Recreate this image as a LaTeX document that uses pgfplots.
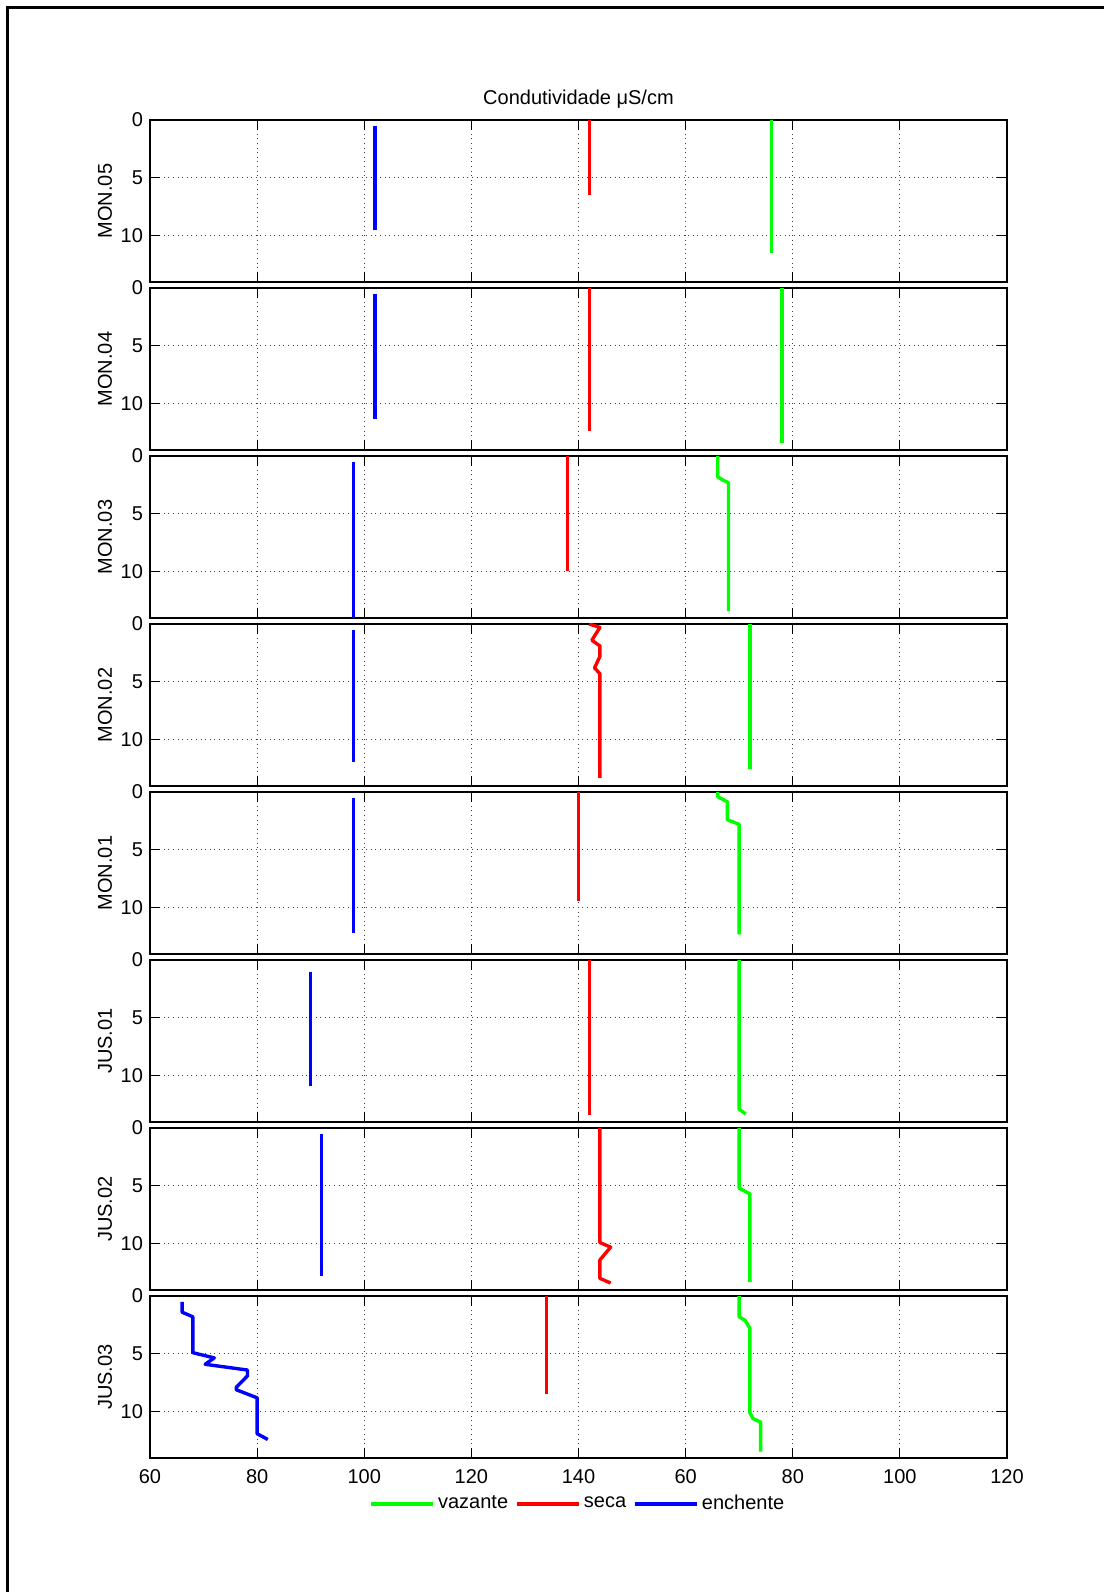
\documentclass[border=0pt]{standalone}
\usepackage{pgfplots}
\pgfplotsset{compat=1.18}
\usepackage{fontspec}
\setmainfont{Liberation Sans}
\definecolor{mgreen}{RGB}{0,255,0}
\definecolor{mred}{RGB}{255,0,0}
\definecolor{mblue}{RGB}{0,0,255}
\pgfplotsset{
  panel/.style={
    scale only axis, width=428.5pt, height=81pt,
    anchor=north west,
    xmin=60, xmax=220, ymin=0, ymax=14, y dir=reverse,
    xtick={60,80,...,220}, ytick={0,5,10}, yticklabels={0,5,10},
    xticklabels={},
    /pgf/number format/assume math mode=true,
    grid=major,
    major grid style={black!75, line width=0.5pt, dash pattern=on 0.5pt off 1.8pt},
    tick align=inside, major tick length=5pt,
    axis line style={line width=0.6pt, black},
    every tick/.style={black, line width=0.6pt},
    tick label style={font=\fontsize{10}{12}\selectfont},
    xticklabel style={yshift=-2pt},
    every axis y label/.style={at={(rel axis cs:0,0.5)}, xshift=-22.5pt, rotate=90, anchor=center, font=\fontsize{10}{12}\selectfont},
    every axis plot/.append style={line width=1.7pt, line join=round},
  }
}
\begin{document}
\begin{tikzpicture}
\path[use as bounding box] (0,0) rectangle (552pt,796pt);
\draw[line width=1.5pt] (3.75pt,0pt) -- (3.75pt,792pt) -- (552pt,792pt);

% MON.05
\begin{axis}[panel, at={(75pt,736pt)}, ylabel={MON.05},
  title={Condutividade μS/cm},
  title style={at={(0.5,1)}, anchor=center, yshift=4.5pt, font=\fontsize{10}{12}\selectfont}]
\addplot[mblue] coordinates {(102,0.5)(102,9.5)};
\addplot[mred] coordinates {(142,0)(142,6.5)};
\addplot[mgreen] coordinates {(176,0)(176,11.5)};
\end{axis}

% MON.04
\begin{axis}[panel, at={(75pt,652pt)}, ylabel={MON.04}]
\addplot[mblue] coordinates {(102,0.5)(102,11.3)};
\addplot[mred] coordinates {(142,0)(142,12.4)};
\addplot[mgreen] coordinates {(178,0)(178,13.4)};
\end{axis}

% MON.03
\begin{axis}[panel, at={(75pt,568pt)}, ylabel={MON.03}]
\addplot[mblue] coordinates {(98,0.5)(98,14)};
\addplot[mred] coordinates {(138,0)(138,9.9)};
\addplot[mgreen] coordinates {(166,0)(166,1.8)(167,2.1)(168,2.3)(168,13.4)};
\end{axis}

% MON.02
\begin{axis}[panel, at={(75pt,484pt)}, ylabel={MON.02}]
\addplot[mblue] coordinates {(98,0.5)(98,11.9)};
\addplot[mred] coordinates {(142,0)(144,0.3)(142.5,1.4)(144,1.9)(144,2.8)(143,3.8)(144,4.3)(144,13.3)};
\addplot[mgreen] coordinates {(172,0)(172,12.5)};
\end{axis}

% MON.01
\begin{axis}[panel, at={(75pt,400pt)}, ylabel={MON.01}]
\addplot[mblue] coordinates {(98,0.5)(98,12.2)};
\addplot[mred] coordinates {(140,0)(140,9.4)};
\addplot[mgreen] coordinates {(166,0)(166,0.4)(167.8,0.85)(167.8,2.4)(170,2.8)(170,12.3)};
\end{axis}

% JUS.01
\begin{axis}[panel, at={(75pt,316pt)}, ylabel={JUS.01}]
\addplot[mblue] coordinates {(90,1)(90,10.9)};
\addplot[mred] coordinates {(142,0)(142,13.4)};
\addplot[mgreen] coordinates {(170,0)(170,12.9)(171.2,13.3)};
\end{axis}

% JUS.02
\begin{axis}[panel, at={(75pt,232pt)}, ylabel={JUS.02}]
\addplot[mblue] coordinates {(92,0.5)(92,12.8)};
\addplot[mred] coordinates {(144,0)(144,9.9)(146,10.3)(144,11.4)(144,13)(146,13.4)};
\addplot[mgreen] coordinates {(170,0)(170,5.2)(172,5.7)(172,13.3)};
\end{axis}

% JUS.03
\begin{axis}[panel, at={(75pt,148pt)}, ylabel={JUS.03},
  xticklabels={60,80,100,120,140,60,80,100,120},
  legend columns=3,
  legend style={at={(0.5,0)}, anchor=center, yshift=-23pt, draw=none, fill=none,
    font=\fontsize{10}{12}\selectfont,
    nodes={inner xsep=1.6pt},
    /tikz/every even column/.append style={column sep=2pt}},
  legend image code/.code={\draw[#1, line width=1.7pt] (0pt,0pt) -- (31pt,0pt);}]
\addplot[mgreen] coordinates {(170,0)(170,1.8)(171.1,2.1)(172,2.8)(172,10.1)(172.6,10.6)(174,10.9)(174,13.45)};
\addlegendentry{vazante}
\addplot[mred] coordinates {(134,0)(134,8.5)};
\addlegendentry{seca}
\addplot[mblue] coordinates {(66,0.5)(66,1.4)(68,1.8)(68,4.9)(72,5.35)(70.3,5.9)(78.2,6.4)(78.2,6.9)(76.1,7.9)(76.1,8.1)(80,8.8)(80,11.9)(82,12.4)};
\addlegendentry{enchente}
\end{axis}
\end{tikzpicture}
\end{document}
